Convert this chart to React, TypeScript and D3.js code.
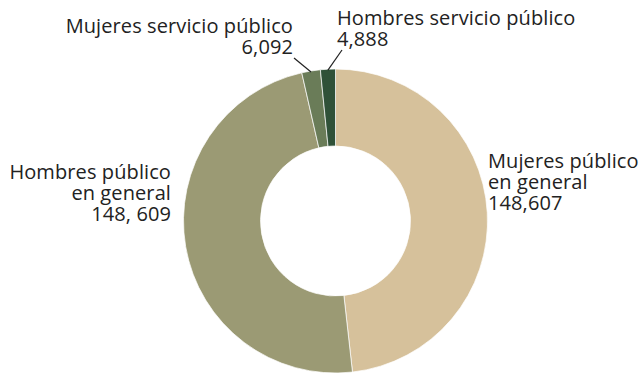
import React, { useEffect, useRef } from "react";
import * as d3 from "d3";

const categories = [
  "Mujeres público en general",
  "Hombres público en general",
  "Mujeres servicio público",
  "Hombres servicio público",
];
const values = [148607, 148609, 6092, 4888];
const colors = ["#d6c19b", "#9b9a74", "#6a7c58", "#2f5138"];

// label text lines per slice (as printed in the chart)
const labelLines = [
  ["Mujeres público", "en general", "148,607"],
  ["Hombres público", "en general", "148, 609"],
  ["Mujeres servicio público", "6,092"],
  ["Hombres servicio público", "4,888"],
];

const width = 640;
const height = 373;
const cx = 335.5;
const cy = 221;
const outerR = 152;
const innerR = 75;

const App = () => {
  const ref = useRef<SVGSVGElement>(null);

  useEffect(() => {
    const svg = d3.select(ref.current);
    svg.selectAll("*").remove();

    const data = categories.map((c, i) => ({ name: c, value: values[i], i }));
    const pie = d3
      .pie<any>()
      .sort(null)
      .value((d) => d.value);
    const arcs = pie(data);
    const arc = d3.arc<any>().innerRadius(innerR).outerRadius(outerR);

    const g = svg.append("g").attr("transform", `translate(${cx},${cy})`);
    g.selectAll("path")
      .data(arcs)
      .join("path")
      .attr("d", arc as any)
      .attr("fill", (d: any) => colors[d.data.i])
      .attr("stroke", "#ffffff")
      .attr("stroke-width", 0.7);

    const font = "'Open Sans', sans-serif";
    const fs = 20;
    const lh = 21;

    // label anchor positions (x, first baseline, anchor)
    const labelPos: [number, number, string][] = [
      [488, 168, "start"],
      [171, 179, "end"],
      [293, 33, "end"],
      [337, 25, "start"],
    ];

    labelLines.forEach((lines, i) => {
      const [x, y, anchor] = labelPos[i];
      const t = svg
        .append("text")
        .attr("x", x)
        .attr("y", y)
        .attr("text-anchor", anchor)
        .attr("font-family", font)
        .attr("font-size", fs)
        .attr("letter-spacing", 0.1)
        .attr("fill", "#222222");
      lines.forEach((l, j) => {
        t.append("tspan")
          .attr("x", x)
          .attr("dy", j === 0 ? 0 : lh)
          .text(l);
      });
    });

    // leader lines for the small slices
    const leader = d3.arc<any>().innerRadius(outerR).outerRadius(outerR);
    const small = [
      { i: 2, from: [294, 58] },
      { i: 3, from: [342, 50] },
    ];
    small.forEach((s) => {
      const c = leader.centroid(arcs[s.i]);
      svg
        .append("line")
        .attr("x1", s.from[0])
        .attr("y1", s.from[1])
        .attr("x2", cx + c[0])
        .attr("y2", cy + c[1] + 1)
        .attr("stroke", "#222222")
        .attr("stroke-width", 1.2);
    });
  }, []);

  return (
    <svg
      ref={ref}
      width={width}
      height={height}
      style={{ position: "absolute", left: 0, top: 0, background: "#fff" }}
    />
  );
};

export default App;
